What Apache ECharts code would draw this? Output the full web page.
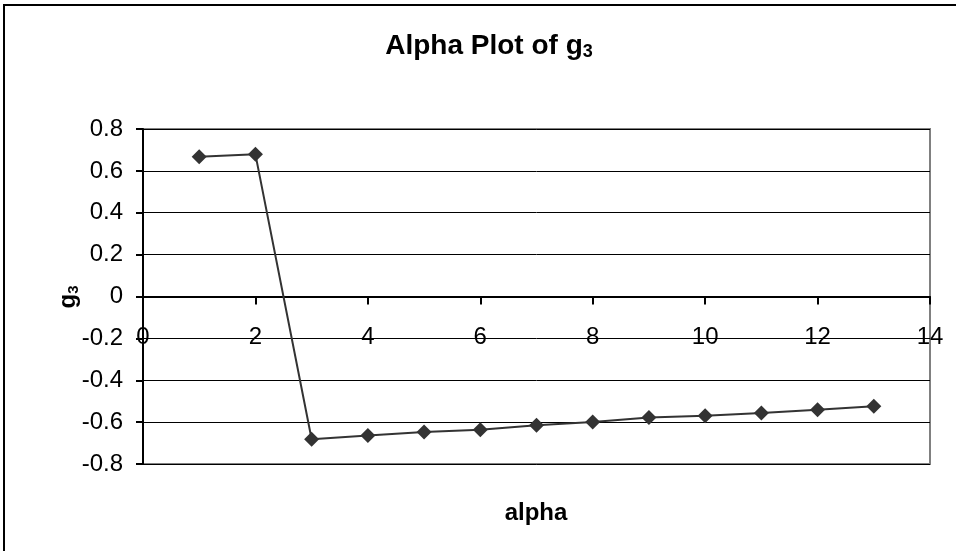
<!DOCTYPE html>
<html>
<head>
<meta charset="utf-8">
<script src="https://cdn.jsdelivr.net/npm/echarts@6/dist/echarts.min.js"></script>
<style>html,body{margin:0;padding:0;background:#fff}#c{width:956px;height:551px}</style>
</head>
<body>
<div id="c"></div>
<script>
var alphaValues = [1, 2, 3, 4, 5, 6, 7, 8, 9, 10, 11, 12, 13];
var g3Values = [0.667, 0.679, -0.682, -0.664, -0.647, -0.636, -0.615, -0.599, -0.578, -0.570, -0.557, -0.541, -0.524];
var xTicks = {min: 0, max: 14, interval: 2};
var yTicks = {min: -0.8, max: 0.8, interval: 0.2};
var titleMain = 'Alpha Plot of g';
var titleSub = '3';
var xTitle = 'alpha';
var yTitleMain = 'g';
var yTitleSub = '3';

var FONT = "'Liberation Sans', Arial, sans-serif";
var GRID = {left: 143, right: 26, top: 129, bottom: 87};
var plotH = 551 - GRID.top - GRID.bottom;
// shift the x axis up so it crosses the y axis at value 0
var xAxisOffset = -plotH * (0 - yTicks.min) / (yTicks.max - yTicks.min);

var chart = echarts.init(document.getElementById('c'), null, {renderer: 'canvas'});
var pts = alphaValues.map(function (a, i) { return [a, g3Values[i]]; });

chart.setOption({
  backgroundColor: '#ffffff',
  animation: false,
  grid: {left: GRID.left, right: GRID.right, top: GRID.top, bottom: GRID.bottom, show: true, borderColor: '#808080', borderWidth: 2, backgroundColor: 'transparent'},
  xAxis: {
    type: 'value', min: xTicks.min, max: xTicks.max, interval: xTicks.interval,
    position: 'bottom', offset: xAxisOffset,
    axisLine: {show: true, onZero: false, lineStyle: {color: '#000', width: 2}},
    axisTick: {show: true, length: 8, lineStyle: {color: '#000', width: 2}},
    axisLabel: {color: '#000', fontSize: 24, fontFamily: FONT, margin: 29},
    splitLine: {show: false}
  },
  yAxis: {
    type: 'value', min: yTicks.min, max: yTicks.max, interval: yTicks.interval,
    axisLine: {show: true, lineStyle: {color: '#000', width: 2}},
    axisTick: {show: true, length: 7, lineStyle: {color: '#000', width: 2}},
    axisLabel: {color: '#000', fontSize: 24, fontFamily: FONT, margin: 20,
      formatter: function (v) { return String(Math.round(v * 10) / 10); }},
    splitLine: {show: true, lineStyle: {color: '#000', width: 1}}
  },
  series: [{
    type: 'line', data: pts,
    symbol: 'diamond', symbolSize: 15,
    itemStyle: {color: '#333333'},
    lineStyle: {color: '#333333', width: 2},
    z: 5
  }],
  graphic: [
    {type: 'rect', shape: {x: 4, y: 5, width: 1100, height: 1000}, style: {fill: 'none', stroke: '#000', lineWidth: 2}, silent: true},
    {type: 'text', x: 489, y: 46, style: {
      text: '{a|' + titleMain + '}{b|' + titleSub + '}',
      align: 'center', verticalAlign: 'middle',
      rich: {
        a: {fontSize: 28, fontWeight: 'bold', fontFamily: FONT, fill: '#000', lineHeight: 30},
        b: {fontSize: 18, fontWeight: 'bold', fontFamily: FONT, fill: '#000', lineHeight: 14, verticalAlign: 'bottom'}
      }}},
    {type: 'text', x: 536, y: 513, style: {
      text: xTitle, align: 'center', verticalAlign: 'middle',
      font: 'bold 24px ' + FONT, fill: '#000'}},
    {type: 'text', x: 68, y: 297, rotation: Math.PI / 2, style: {
      text: '{a|' + yTitleMain + '}{b|' + yTitleSub + '}',
      align: 'center', verticalAlign: 'middle',
      rich: {
        a: {fontSize: 24, fontWeight: 'bold', fontFamily: FONT, fill: '#000', lineHeight: 26},
        b: {fontSize: 15, fontWeight: 'bold', fontFamily: FONT, fill: '#000', lineHeight: 12, verticalAlign: 'bottom'}
      }}}
  ]
});
</script>
</body>
</html>
